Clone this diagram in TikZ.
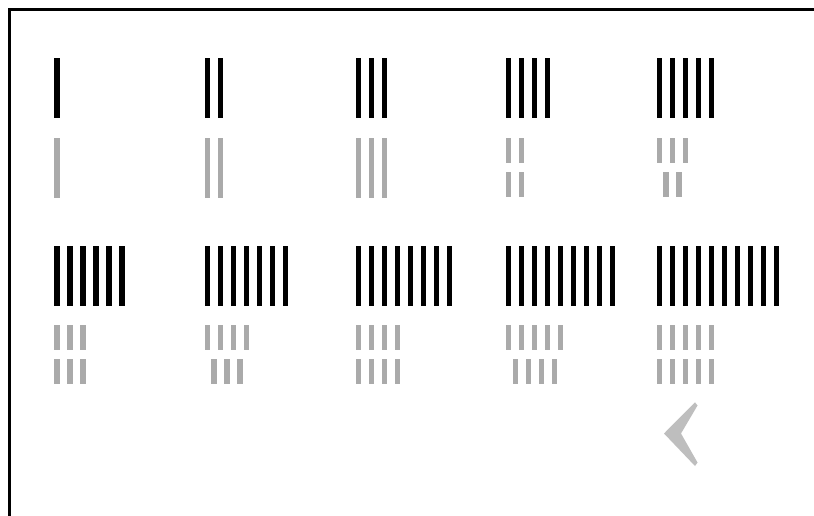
\documentclass[tikz,border=0pt]{standalone}
\definecolor{barGray}{HTML}{AAAAAA}
\definecolor{chevGray}{HTML}{BEBEBE}
\begin{document}
\begin{tikzpicture}[x=1pt,y=-1pt,
  blackbar/.style={fill=black},
  graybar/.style={fill=barGray},
  chevron/.style={fill=chevGray}]
\useasboundingbox (0,0) rectangle (814,516);
\fill[white] (0,0) rectangle (814,516);
% frame (top and left)
\draw[line width=2.6pt] (9.6,516) -- (9.6,9.6) -- (814,9.6);
% row 1: tallies 1..5
\foreach \i in {0,...,4}{
  \pgfmathsetmacro\gx{54.3+150.6*\i}
  \foreach \k in {0,...,\i}{
    \fill[blackbar] (\gx+13*\k,58) rectangle ++(5.3,60);
  }
}
% row 1 gray: full bars for 1..3
\foreach \i in {0,1,2}{
  \pgfmathsetmacro\gx{54.3+150.6*\i}
  \foreach \k in {0,...,\i}{
    \fill[graybar] (\gx+13*\k,138) rectangle ++(5.3,59.5);
  }
}
% row 1 gray: split bars for 4 and 5
\foreach \i/\a/\b in {3/2/2,4/3/2}{
  \pgfmathsetmacro\gx{54.3+150.6*\i}
  \pgfmathsetmacro\off{(\a-\b)*6.5}
  \foreach \k in {1,...,\a}{
    \fill[graybar] (\gx+13*\k-13,138) rectangle ++(5.3,25);
  }
  \foreach \k in {1,...,\b}{
    \fill[graybar] (\gx+\off+13*\k-13,172.3) rectangle ++(5.3,25);
  }
}
% row 2: tallies 6..10
\foreach \i/\a/\b in {0/3/3,1/4/3,2/4/4,3/5/4,4/5/5}{
  \pgfmathsetmacro\gx{54.3+150.6*\i}
  \pgfmathtruncatemacro\n{\a+\b}
  \pgfmathsetmacro\off{(\a-\b)*6.5}
  \foreach \k in {1,...,\n}{
    \fill[blackbar] (\gx+13*\k-13,246) rectangle ++(5.3,59.5);
  }
  \foreach \k in {1,...,\a}{
    \fill[graybar] (\gx+13*\k-13,325) rectangle ++(5.3,25);
  }
  \foreach \k in {1,...,\b}{
    \fill[graybar] (\gx+\off+13*\k-13,359.3) rectangle ++(5.3,25);
  }
}
% chevron
\fill[chevron] (695,402.3) -- (664,433.5) -- (695,466) -- (697.5,462.5)
  -- (681,433.5) -- (697.5,405.5) -- cycle;
\end{tikzpicture}
\end{document}
